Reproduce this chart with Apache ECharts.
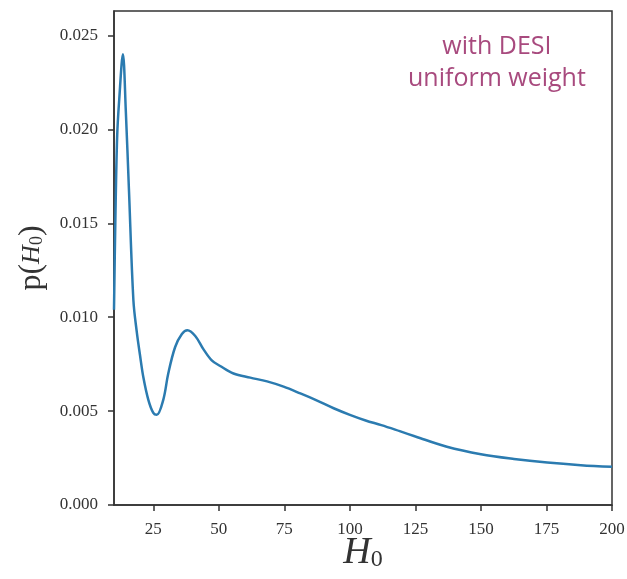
<!DOCTYPE html>
<html>
<head>
<meta charset="utf-8">
<script src="https://cdn.jsdelivr.net/npm/echarts@6/dist/echarts.min.js"></script>
<style>
  html, body { margin: 0; padding: 0; background: #fff; }
  #chart { width: 627px; height: 579px; }
</style>
</head>
<body>
<div id="chart"></div>
<script>
// H0 grid and density
var h0 = [10, 10.5, 11.2, 12, 13.4, 14.5, 15.7, 17.4, 18.7, 19.9, 21.2, 23.1, 25.0, 26.3,
  28.8, 30.7, 33.3, 35.9, 38.0, 41.0, 44.1, 47.3, 50.5, 55.6, 62, 68.4, 74.7, 81.1,
  87.5, 93.8, 100, 106, 112, 119, 125, 137, 150, 162.6, 175.3, 188.1, 200];
var pH0 = [0.0104, 0.0150, 0.0196, 0.0216, 0.0240, 0.0210, 0.0168, 0.0109, 0.0092, 0.0080, 0.0068, 0.0056, 0.0049, 0.0048,
  0.0056, 0.0070, 0.0084, 0.0091, 0.0093, 0.0090, 0.0083, 0.0077, 0.0074, 0.0070, 0.00678, 0.00658, 0.0063, 0.00594,
  0.00556, 0.00515, 0.0048, 0.0045, 0.00425, 0.00393, 0.00365, 0.0031, 0.0027, 0.00245, 0.00226, 0.00212, 0.00203];
var xTicks = [25, 50, 75, 100, 125, 150, 175, 200];
var yTicks = [0, 0.005, 0.010, 0.015, 0.020, 0.025];

var points = h0.map(function (h, i) { return [h, pH0[i]]; });

var chart = echarts.init(document.getElementById('chart'));
var frame = '#333333';
var tickFont = { fontFamily: 'Liberation Serif', fontSize: 17, color: '#333' };

chart.setOption({
  animation: false,
  grid: {
    left: 114, right: 15, top: 11, bottom: 74,
    outerBoundsMode: 'none',
    show: true, borderColor: frame, borderWidth: 1.5
  },
  xAxis: {
    type: 'value', min: 10, max: 200,
    name: '{h|H}{s|0}',
    nameLocation: 'middle',
    nameGap: 29,
    nameMoveOverlap: false,
    nameTextStyle: {
      rich: {
        h: { fontFamily: 'Liberation Serif', fontStyle: 'italic', fontSize: 38, color: '#333' },
        s: { fontFamily: 'Liberation Serif', fontSize: 24, color: '#333', padding: [14, 0, 0, 0] }
      }
    },
    axisLine: { show: true, lineStyle: { color: frame, width: 1.5 } },
    axisTick: { show: true, length: 6, lineStyle: { color: frame, width: 1.5 }, customValues: xTicks },
    axisLabel: Object.assign({ margin: 16, customValues: xTicks }, tickFont),
    splitLine: { show: false }
  },
  yAxis: {
    type: 'value', min: 0, max: 0.0263,
    name: '{p|p(}{h|H}{s|0}{p|)}',
    nameLocation: 'middle',
    nameGap: 66,
    nameRotate: 90,
    nameTextStyle: {
      rich: {
        p: { fontFamily: 'Liberation Serif', fontSize: 32, color: '#333' },
        h: { fontFamily: 'Liberation Serif', fontStyle: 'italic', fontSize: 26, color: '#333' },
        s: { fontFamily: 'Liberation Serif', fontSize: 18, color: '#333', padding: [10, 0, 0, 0] }
      }
    },
    axisLine: { show: true, lineStyle: { color: frame, width: 1.5 } },
    axisTick: { show: true, length: 6, lineStyle: { color: frame, width: 1.5 }, customValues: yTicks },
    axisLabel: Object.assign({
      margin: 16,
      customValues: yTicks,
      formatter: function (v) { return v.toFixed(3); }
    }, tickFont),
    splitLine: { show: false }
  },
  graphic: [{
    type: 'text',
    left: 408, top: 31,
    style: {
      text: 'with DESI\nuniform weight',
      textAlign: 'center',
      x: 92,
      fill: '#a84a7e',
      font: '25px "Open Sans"',
      lineHeight: 32
    }
  }],
  series: [{
    type: 'line',
    data: points,
    showSymbol: false,
    smooth: 0.35,
    lineStyle: { color: '#2b7bb0', width: 2.5 }
  }]
});
</script>
</body>
</html>
